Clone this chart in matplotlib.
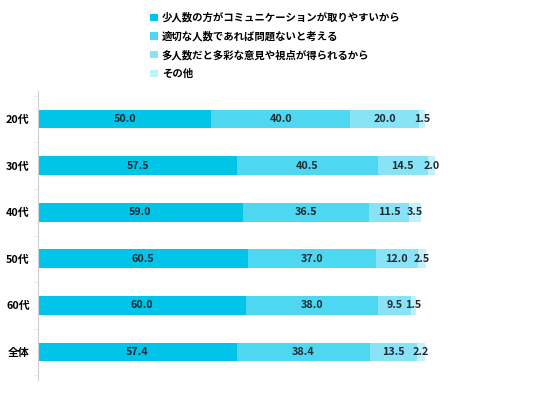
import matplotlib.pyplot as plt
import numpy as np

plt.rcParams['font.family'] = ['Noto Sans CJK JP', 'DejaVu Sans']

groups = ['20代', '30代', '40代', '50代', '60代', '全体']
series = ['少人数の方がコミュニケーションが取りやすいから',
          '適切な人数であれば問題ないと考える',
          '多人数だと多彩な意見や視点が得られるから',
          'その他']
s1 = [50.0, 57.5, 59.0, 60.5, 60.0, 57.4]
s2 = [40.0, 40.5, 36.5, 37.0, 38.0, 38.4]
s3 = [20.0, 14.5, 11.5, 12.0, 9.5, 13.5]
s4 = [1.5, 2.0, 3.5, 2.5, 1.5, 2.2]
colors = ['#00c4e8', '#4dd7f1', '#88e3f6', '#c2f1fb']

fig = plt.figure(figsize=(5.36, 3.93), dpi=100)
ax = fig.add_axes([38 / 536, 13 / 393, 494 / 536, 289 / 393])

y = np.arange(len(groups))
left = np.zeros(len(groups))
for vals, name, c in zip([s1, s2, s3, s4], series, colors):
    ax.barh(y, vals, left=left, height=0.4, color=c, label=name)
    for yi, l, v in zip(y, left, vals):
        ax.text(l + v / 2, yi, f'{v:.1f}', ha='center', va='center',
                fontsize=7.8, fontweight='bold', color='#1f2a33')
    left += np.array(vals)

ax.set_ylim(5.6, -0.6)
ax.set_xlim(0, 142.5)
ax.set_yticks(y)
ax.set_yticklabels(groups, fontsize=7.8, fontweight='bold')
ax.tick_params(axis='y', length=0, pad=6)
ax.set_yticks(np.arange(-0.5, 6, 1), minor=True)
ax.tick_params(axis='y', which='minor', length=3, color='#e6e6e6')
ax.set_xticks([])
for s in ['top', 'right', 'bottom']:
    ax.spines[s].set_visible(False)
ax.spines['left'].set_color('#d0d0d0')

fig.legend(loc='upper left', bbox_to_anchor=(141 / 536, 1 - 3 / 393), frameon=False,
           handlelength=0.7, handleheight=0.7, handletextpad=0.4,
           labelspacing=0.8, prop={'weight': 'bold', 'size': 7.5})

fig.savefig('out.png', dpi=100)
